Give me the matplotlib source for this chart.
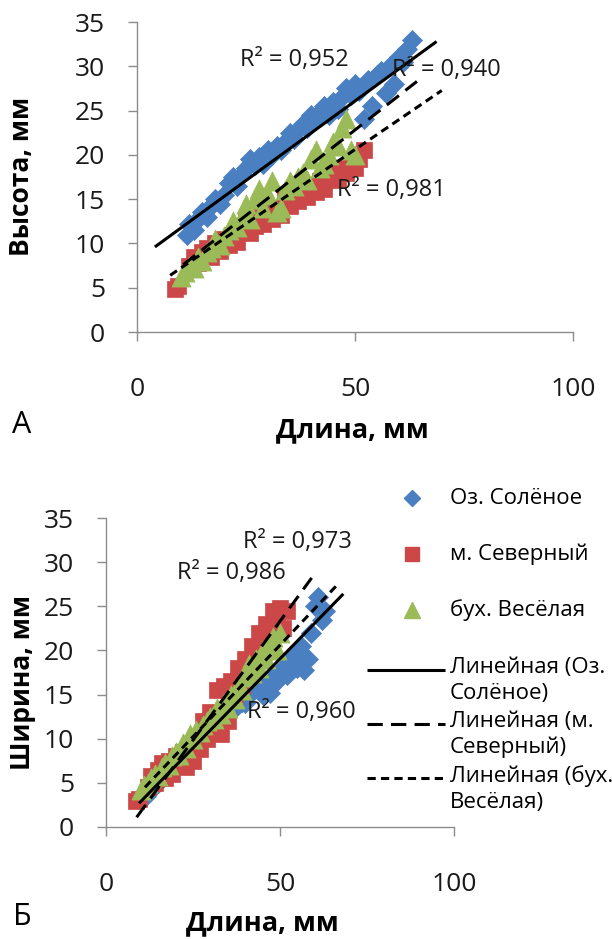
import matplotlib
matplotlib.use("Agg")
import matplotlib.pyplot as plt
from matplotlib.lines import Line2D
import numpy as np

plt.rcParams['font.family'] = ['Open Sans', 'DejaVu Sans']

# ---------------- data ----------------
series_names = ["Оз. Солёное", "м. Северный", "бух. Весёлая"]
trend_names = ["Линейная (Оз.\nСолёное)", "Линейная (м.\nСеверный)", "Линейная (бух.\nВесёлая)"]

# Оз. Солёное
len_blue = [11.5, 12, 13, 14, 15, 16, 17, 18, 19, 20, 21, 22, 23, 24, 25, 26, 27, 28, 29, 30,
            31, 32, 33, 34, 35, 36, 37, 38, 39, 40, 41, 42, 43, 44, 45, 46, 47, 48, 49, 50,
            51, 52, 53, 54, 55, 56, 57, 58, 59, 60, 61, 62, 63]
height_blue = [11.0, 12.2, 11.5, 12.8, 13.5, 13.0, 14.2, 15.0, 14.5, 15.5, 16.8, 17.5, 16.5, 17.8, 18.5,
               19.5, 18.8, 19.8, 19.0, 20.5, 20.0, 21.0, 20.5, 21.5, 22.5, 21.8, 22.8, 23.5, 23.0, 24.5,
               24.0, 24.8, 25.5, 24.5, 26.0, 25.2, 26.5, 27.5, 26.8, 28.0, 27.2, 24.0, 28.5, 25.5, 29.0,
               29.5, 27.0, 30.0, 28.0, 31.0, 30.5, 32.0, 33.0]
width_blue = [3.5, 4.0, 4.2, 4.8, 5.0, 5.5, 6.0, 6.3, 6.8, 7.0, 7.5, 7.8, 8.2, 8.5, 9.0,
              9.5, 9.8, 10.0, 10.5, 11.0, 11.2, 11.8, 12.0, 12.5, 12.8, 13.2, 13.5, 14.0, 14.2, 14.0,
              15.0, 15.5, 16.0, 15.5, 15.0, 16.5, 15.2, 17.0, 16.5, 17.5, 18.0, 17.2, 18.5, 19.5, 18.0,
              20.5, 17.8, 19.0, 22.0, 25.0, 26.0, 23.5, 24.5]

# м. Северный
len_red = [8.7, 9.5, 12, 13, 14, 15, 16, 17, 18, 19, 20, 21, 22, 23, 24, 25, 26, 27, 28, 29,
           30, 31, 32, 33, 34, 35, 36, 37, 38, 39, 40, 41, 42, 43, 44, 45, 46, 47, 48, 49,
           50, 51, 52]
height_red = [4.8, 5.2, 7.5, 8.5, 7.8, 9.0, 9.5, 8.5, 10.0, 9.2, 10.5, 9.8, 11.0, 10.2, 11.5,
              12.5, 11.2, 12.0, 13.0, 12.2, 13.5, 12.8, 14.0, 13.2, 15.0, 14.2, 15.5, 14.8, 16.0, 15.2,
              16.5, 15.8, 17.0, 16.2, 17.5, 18.0, 17.2, 18.5, 18.0, 19.0, 18.5, 19.5, 20.5]
width_red = [3.0, 3.2, 4.5, 5.8, 5.0, 6.5, 7.2, 5.5, 7.5, 6.0, 8.0, 7.0, 8.5, 6.8, 9.2,
             7.5, 10.0, 8.8, 12.0, 10.0, 13.0, 11.0, 15.5, 10.5, 16.0, 12.0, 16.5, 14.5, 18.0, 16.0,
             19.0, 17.5, 20.5, 19.0, 22.0, 20.5, 23.0, 21.5, 24.5, 23.0, 24.8, 22.5, 24.5]

# бух. Весёлая
len_green = [10, 11, 12, 13, 14, 15, 16, 17, 18, 19, 20, 21, 22, 23, 24, 25, 26, 27, 28, 29,
             30, 31, 32, 33, 34, 35, 36, 37, 38, 39, 40, 41, 42, 43, 44, 45, 46, 47, 48, 49, 50]
height_green = [6.2, 6.8, 7.5, 7.2, 8.5, 8.0, 9.0, 9.5, 10.5, 9.8, 10.8, 11.5, 12.5, 11.8, 13.0,
                14.5, 12.8, 15.0, 16.2, 14.0, 15.5, 17.0, 13.5, 14.0, 16.0, 17.0, 16.5, 17.5, 18.0, 17.2,
                19.5, 20.5, 18.5, 19.0, 20.0, 21.5, 21.0, 23.0, 24.0, 20.5, 20.0]
width_green = [4.2, 4.8, 5.0, 5.5, 6.0, 5.8, 6.8, 7.2, 7.0, 8.0, 8.5, 8.2, 9.5, 9.0, 10.5,
               10.0, 11.0, 10.8, 11.5, 12.0, 12.5, 12.2, 13.5, 12.8, 14.0, 13.5, 15.0, 14.5, 16.0, 15.5,
               17.0, 18.5, 17.5, 19.0, 18.0, 20.0, 19.0, 20.5, 21.5, 20.0, 22.0]

# linear trend lines (slope, intercept, x-range): solid, long dash, short dash
trendA_slope = [0.359, 0.386, 0.335]
trendA_intercept = [8.13, 3.51, 3.85]
trendA_xmin = [4.1, 10.6, 7.6]
trendA_xmax = [68.7, 64.2, 69.9]
trendB_slope = [0.404, 0.539, 0.415]
trendB_intercept = [-1.15, -3.64, -0.15]
trendB_xmin = [9.5, 8.8, 11.2]
trendB_xmax = [68.2, 59.1, 66.8]

r2A_labels = ["R² = 0,952", "R² = 0,940", "R² = 0,981"]
r2A_x = [23.6, 58.5, 45.9]
r2A_y = [30.7, 29.6, 16.0]
r2B_labels = ["R² = 0,973", "R² = 0,986", "R² = 0,960"]
r2B_x = [39.4, 20.4, 40.5]
r2B_y = [32.3, 28.8, 13.0]

x_ticks = [0, 50, 100]
y_ticks = [0, 5, 10, 15, 20, 25, 30, 35]

# ---------------- style ----------------
colors = ['#4a7fc1', '#cc4848', '#9bbb59']
markers = ['D', 's', '^']
msizes = [105, 135, 190]
line_dashes = [None, (5, 2.7), (2.7, 1.7)]
LW = 2.2
AXC = '#8c8c8c'

W, H = 612, 939
fig = plt.figure(figsize=(W / 100, H / 100), dpi=100)


def rect(l, r, t, b):
    return [l / W, 1 - b / H, (r - l) / W, (b - t) / H]


axA = fig.add_axes(rect(137, 573, 22, 332))
axB = fig.add_axes(rect(106, 454, 518, 827))


def style_axes(ax):
    ax.set_xlim(0, 100)
    ax.set_ylim(0, 35)
    ax.set_xticks(x_ticks)
    ax.set_yticks(y_ticks)
    for s in ['top', 'right']:
        ax.spines[s].set_visible(False)
    for s in ['left', 'bottom']:
        ax.spines[s].set_color(AXC)
        ax.spines[s].set_linewidth(1.0)
    ax.tick_params(axis='both', direction='out', length=6.5, width=1.0, color=AXC,
                   labelsize=19, labelcolor='#1a1a1a')
    ax.tick_params(axis='x', pad=26)
    ax.tick_params(axis='y', pad=16.5)
    ax.patch.set_alpha(0)


def draw(ax, xs, ys, slopes, inters, xmins, xmaxs):
    for x, y, c, m, s in zip(xs, ys, colors, markers, msizes):
        ax.scatter(x, y, marker=m, s=s, color=c, edgecolors=c, linewidths=0.5, zorder=2, clip_on=False)
    for k in range(3):
        xx = np.array([xmins[k], xmaxs[k]])
        yy = slopes[k] * xx + inters[k]
        ln, = ax.plot(xx, yy, color='black', lw=LW, zorder=3, solid_capstyle='butt')
        if line_dashes[k] is not None:
            ln.set_dashes(line_dashes[k])
            ln.set_dash_capstyle('butt')


style_axes(axA)
style_axes(axB)

draw(axA, [len_blue, len_red, len_green], [height_blue, height_red, height_green],
     trendA_slope, trendA_intercept, trendA_xmin, trendA_xmax)
draw(axB, [len_blue, len_red, len_green], [width_blue, width_red, width_green],
     trendB_slope, trendB_intercept, trendB_xmin, trendB_xmax)

for lab, x, y in zip(r2A_labels, r2A_x, r2A_y):
    axA.text(x, y, lab, fontsize=17, color='#1a1a1a', ha='left', va='center', zorder=4)
for lab, x, y in zip(r2B_labels, r2B_x, r2B_y):
    axB.text(x, y, lab, fontsize=17, color='#1a1a1a', ha='left', va='center', zorder=4)

# axis titles
axA.set_xlabel("Длина, мм", fontsize=19.5, fontweight='bold', va='center')
axA.xaxis.set_label_coords(0.495, -0.316)
axA.set_ylabel("Высота, мм", fontsize=19, fontweight='bold', va='center')
axA.yaxis.set_label_coords(-0.266, 0.503)
axB.set_xlabel("Длина, мм", fontsize=19.5, fontweight='bold', va='center')
axB.xaxis.set_label_coords(0.448, -0.311)
axB.set_ylabel("Ширина, мм", fontsize=19, fontweight='bold', va='center')
axB.yaxis.set_label_coords(-0.241, 0.469)

fig.text(22 / W, 1 - 425 / H, "А", fontsize=22, ha='center', va='center')
fig.text(22 / W, 1 - 917 / H, "Б", fontsize=22, ha='center', va='center')

# legend (panel Б)
leg_marker_y = [498, 554, 610]
for k in range(3):
    fig.add_artist(Line2D([412 / W], [1 - leg_marker_y[k] / H], marker=markers[k], linestyle='none',
                          markersize=[8, 10, 11][k], color=colors[k], transform=fig.transFigure))
    fig.text(450 / W, 1 - leg_marker_y[k] / H, series_names[k], fontsize=16, ha='left', va='center')
leg_line_y = [670, 724, 778]
for k in range(3):
    yy = 1 - leg_line_y[k] / H
    ln = Line2D([367 / W, 445 / W], [yy, yy], color='black', lw=LW, transform=fig.transFigure,
                solid_capstyle='butt')
    if line_dashes[k] is not None:
        ln.set_dashes(line_dashes[k])
        ln.set_dash_capstyle('butt')
    fig.add_artist(ln)
    fig.text(450 / W, yy + 13 / H, trend_names[k], fontsize=16, ha='left', va='top',
             linespacing=1.3)

fig.savefig("out.png", dpi=100)
